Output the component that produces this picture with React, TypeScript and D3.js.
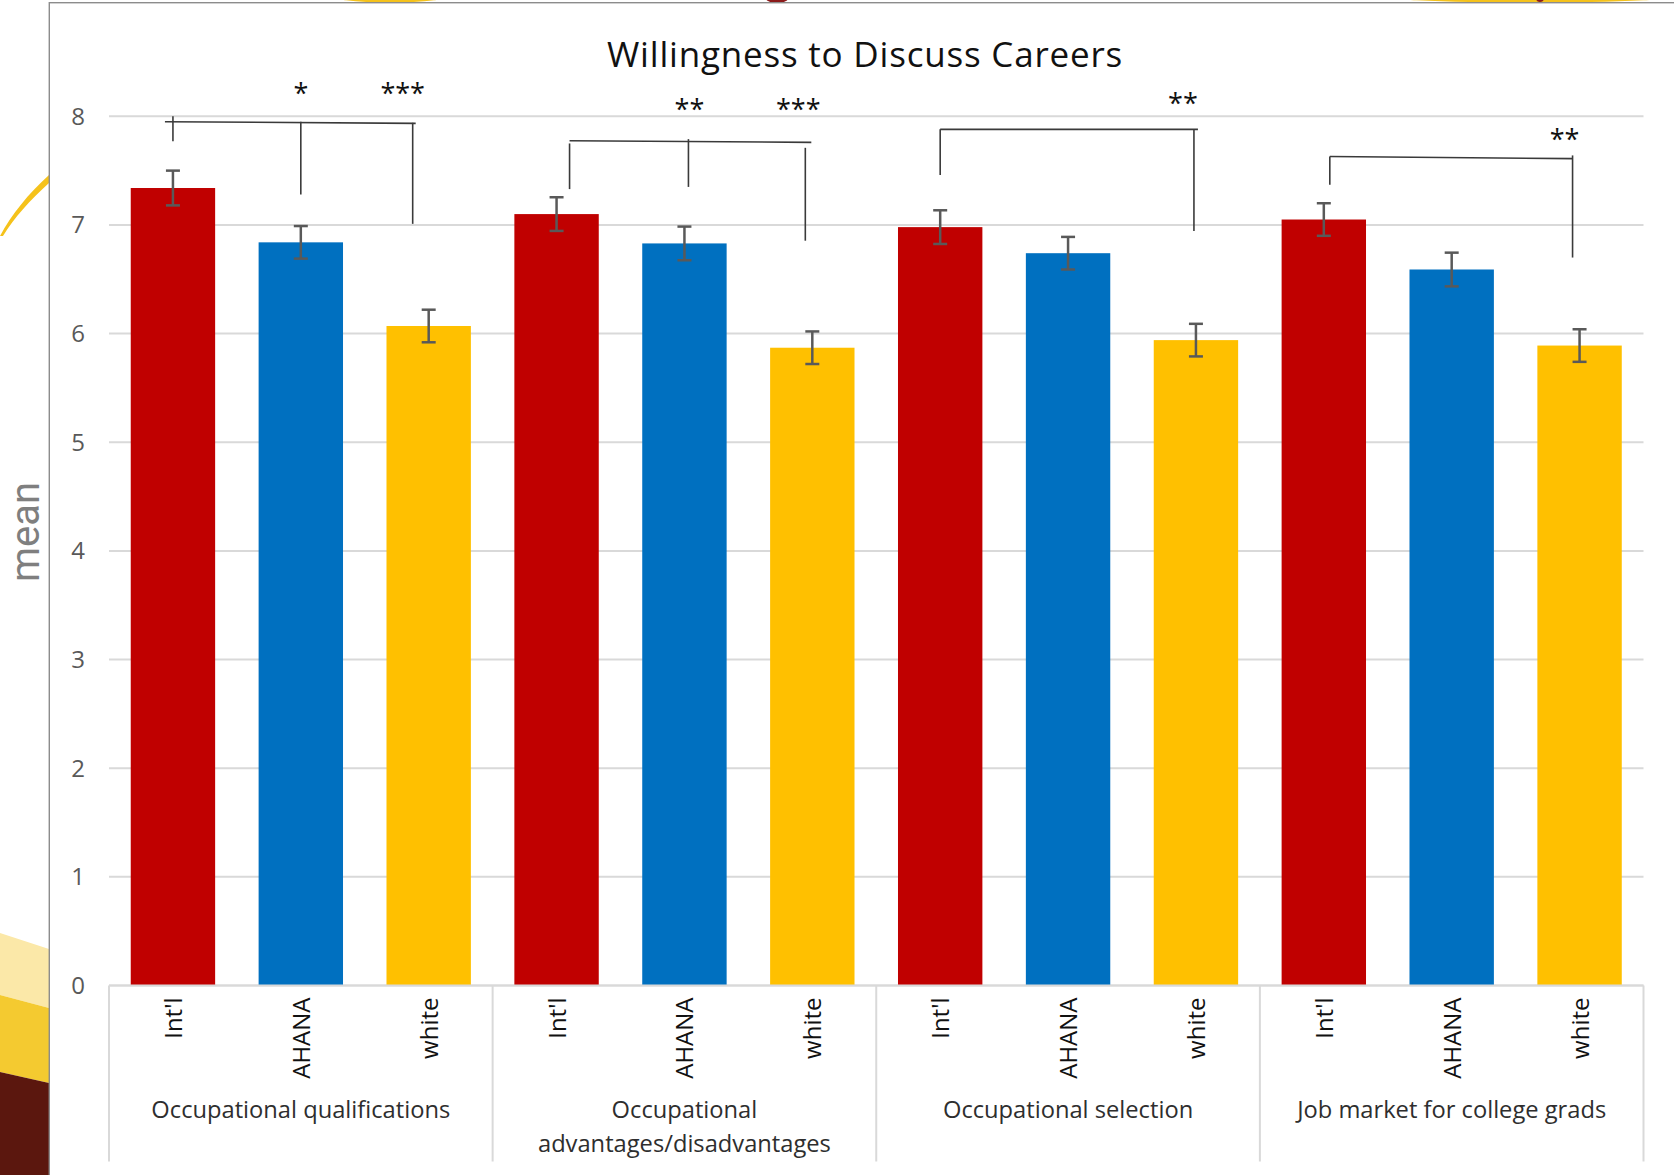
import React from "react";
import * as d3 from "d3";

// ---- data ----
const groups = [
  "Occupational qualifications",
  "Occupational\nadvantages/disadvantages",
  "Occupational selection",
  "Job market for college grads",
];
const seriesNames = ["Int'l", "AHANA", "white"];
const seriesColors = ["#c00000", "#0070c0", "#ffc000"];

const intlMeans = [7.34, 7.1, 6.98, 7.05];
const ahanaMeans = [6.84, 6.83, 6.74, 6.59];
const whiteMeans = [6.07, 5.87, 5.94, 5.89];

const intlErr = [0.16, 0.155, 0.155, 0.15];
const ahanaErr = [0.15, 0.155, 0.15, 0.155];
const whiteErr = [0.15, 0.15, 0.15, 0.15];

const yTicks = [0, 1, 2, 3, 4, 5, 6, 7, 8];

// significance brackets: level and drop ends in mean units, dx = small hand nudge in px
const brackets = [
  {
    group: 0,
    level: [7.95, 7.935],
    ends: [
      { series: 0, top: 8.0, to: 7.77, dx: 0 },
      { series: 1, top: 7.95, to: 7.28, dx: 0 },
      { series: 2, top: 7.94, to: 7.01, dx: -16 },
    ],
    overhang: [-8, 3],
    stars: [
      { series: 1, text: "*", dx: 0 },
      { series: 2, text: "***", dx: -26 },
    ],
    starLevel: 8.25,
  },
  {
    group: 1,
    level: [7.775, 7.76],
    ends: [
      { series: 0, top: 7.75, to: 7.33, dx: 13 },
      { series: 1, top: 7.79, to: 7.35, dx: 4 },
      { series: 2, top: 7.71, to: 6.855, dx: -7 },
    ],
    overhang: [0, 6],
    stars: [
      { series: 1, text: "**", dx: 5 },
      { series: 2, text: "***", dx: -14 },
    ],
    starLevel: 8.1,
  },
  {
    group: 2,
    level: [7.88, 7.88],
    ends: [
      { series: 0, top: 7.88, to: 7.46, dx: 0 },
      { series: 2, top: 7.88, to: 6.945, dx: -2 },
    ],
    overhang: [0, 4],
    stars: [{ series: 2, text: "**", dx: -13 }],
    starLevel: 8.16,
  },
  {
    group: 3,
    level: [7.63, 7.61],
    ends: [
      { series: 0, top: 7.63, to: 7.37, dx: 6 },
      { series: 2, top: 7.64, to: 6.7, dx: -7 },
    ],
    overhang: [0, 0],
    stars: [{ series: 2, text: "**", dx: -15 }],
    starLevel: 7.83,
  },
];

const FONT = "'Open Sans', 'DejaVu Sans', sans-serif";
const W = 1674;
const H = 1175;

export default function App() {
  const means = [intlMeans, ahanaMeans, whiteMeans];
  const errs = [intlErr, ahanaErr, whiteErr];

  const plotLeft = 109;
  const plotRight = 1643.5;

  const y = d3.scaleLinear().domain([0, 8]).range([985.5, 116.3]);
  const xGroup = d3
    .scaleBand<number>()
    .domain(d3.range(groups.length))
    .range([plotLeft, plotRight])
    .padding(0);
  const xSeries = d3
    .scaleBand<number>()
    .domain(d3.range(seriesNames.length))
    .range([0, xGroup.bandwidth()])
    .paddingInner(0.34)
    .paddingOuter(0.17);

  const cx = (g: number, s: number) =>
    (xGroup(g) as number) + (xSeries(s) as number) + xSeries.bandwidth() / 2;

  const y0 = y(0);
  const capW = 14;

  const lineTop = d3.line().curve(d3.curveBasis);

  return (
    <svg
      width={W}
      height={H}
      viewBox={`0 0 ${W} ${H}`}
      style={{ position: "absolute", left: 0, top: 0, display: "block" }}
    >
      <rect x={0} y={0} width={W} height={H} fill="#ffffff" />

      {/* background pieces peeking around the chart frame */}
      <path
        d="M0,236 C12,214 28,194 49,175 L49,183 C30,200 14,218 3,236 Z"
        fill="#f5c21b"
      />
      <path d="M0,933 L49,949 L49,1008 L0,995 Z" fill="#fbe8a8" />
      <path d="M0,995 L49,1008 L49,1083 L0,1072 Z" fill="#f4ca30" />
      <path d="M0,1072 L49,1083 L49,1175 L0,1175 Z" fill="#5b170e" />
      <ellipse cx={390} cy={-5} rx={62} ry={7.5} fill="#f5c21b" />
      <ellipse cx={1530} cy={-5} rx={160} ry={7.5} fill="#f5c21b" />
      <ellipse cx={777} cy={-3} rx={12} ry={6} fill="#8b1a1a" />
      <ellipse cx={1540} cy={-2} rx={4} ry={4} fill="#8b1a1a" />

      {/* chart frame */}
      <rect x={49.3} y={2.7} width={W} height={H} fill="#ffffff" stroke="#8c8c8c" strokeWidth={1.4} />

      {/* y axis title */}
      <text
        transform={`translate(38.5,532) rotate(-90)`}
        textAnchor="middle"
        fontFamily="Roboto, 'Open Sans', sans-serif"
        fontSize={40}
        fill="#7f7f7f"
      >
        mean
      </text>

      {/* title */}
      <text
        x={865}
        y={66.7}
        textAnchor="middle"
        fontFamily={FONT}
        fontSize={35}
        letterSpacing={0.8}
        fill="#111111"
      >
        Willingness to Discuss Careers
      </text>

      {/* gridlines */}
      {yTicks.map((t) => (
        <line
          key={`g${t}`}
          x1={plotLeft}
          x2={plotRight}
          y1={y(t)}
          y2={y(t)}
          stroke="#d9d9d9"
          strokeWidth={2}
        />
      ))}

      {/* y tick labels */}
      {yTicks.map((t) => (
        <text
          key={`t${t}`}
          x={85}
          y={y(t) + 8.5}
          textAnchor="end"
          fontFamily={FONT}
          fontSize={24}
          fill="#595959"
        >
          {t}
        </text>
      ))}

      {/* bars */}
      {groups.map((_, g) =>
        seriesNames.map((_, s) => (
          <rect
            key={`b${g}-${s}`}
            x={(xGroup(g) as number) + (xSeries(s) as number)}
            y={y(means[s][g])}
            width={xSeries.bandwidth()}
            height={y0 - y(means[s][g])}
            fill={seriesColors[s]}
          />
        ))
      )}

      {/* error bars */}
      {groups.map((_, g) =>
        seriesNames.map((_, s) => {
          const x = cx(g, s);
          const hi = y(means[s][g] + errs[s][g]);
          const lo = y(means[s][g] - errs[s][g]);
          return (
            <g key={`e${g}-${s}`} stroke="#595959" strokeWidth={2.5}>
              <line x1={x} x2={x} y1={hi} y2={lo} />
              <line x1={x - capW / 2} x2={x + capW / 2} y1={hi} y2={hi} />
              <line x1={x - capW / 2} x2={x + capW / 2} y1={lo} y2={lo} />
            </g>
          );
        })
      )}

      {/* category axis */}
      <line x1={plotLeft} x2={plotRight} y1={y0} y2={y0} stroke="#d9d9d9" strokeWidth={2} />
      {d3.range(groups.length + 1).map((i) => {
        const x = i < groups.length ? (xGroup(i) as number) : plotRight;
        return (
          <line
            key={`d${i}`}
            x1={x}
            x2={x}
            y1={y0}
            y2={1161.5}
            stroke="#d9d9d9"
            strokeWidth={2}
          />
        );
      })}

      {/* series labels, rotated */}
      {groups.map((_, g) =>
        seriesNames.map((name, s) => (
          <text
            key={`sl${g}-${s}`}
            transform={`translate(${cx(g, s) + 9},${y0 + 12}) rotate(-90)`}
            textAnchor="end"
            fontFamily={FONT}
            fontSize={24}
            fill="#111111"
          >
            {name}
          </text>
        ))
      )}

      {/* group labels */}
      {groups.map((label, g) => {
        const mid = (xGroup(g) as number) + xGroup.bandwidth() / 2;
        return (
          <text
            key={`gl${g}`}
            textAnchor="middle"
            fontFamily={FONT}
            fontSize={23.7}
            fill="#2e2e2e"
          >
            {label.split("\n").map((line, i) => (
              <tspan key={i} x={mid} y={1118 + i * 33.5}>
                {line}
              </tspan>
            ))}
          </text>
        );
      })}

      {/* significance brackets */}
      {brackets.map((b, i) => {
        const first = b.ends[0];
        const last = b.ends[b.ends.length - 1];
        const xl = cx(b.group, first.series) + first.dx + b.overhang[0];
        const xr = cx(b.group, last.series) + last.dx + b.overhang[1];
        return (
          <g key={`br${i}`} stroke="#3a3a3a" strokeWidth={1.6} fill="none">
            <path d={lineTop([[xl, y(b.level[0])], [xr, y(b.level[1])]]) || ""} />
            {b.ends.map((e, j) => {
              const x = cx(b.group, e.series) + e.dx;
              return <line key={j} x1={x} x2={x} y1={y(e.top)} y2={y(e.to)} />;
            })}
          </g>
        );
      })}
      {brackets.map((b, i) =>
        b.stars.map((st, j) => (
          <text
            key={`st${i}-${j}`}
            x={cx(b.group, st.series) + st.dx}
            y={y(b.starLevel) + 14}
            textAnchor="middle"
            fontFamily={FONT}
            fontSize={27}
            fill="#111111"
          >
            {st.text}
          </text>
        ))
      )}
    </svg>
  );
}
